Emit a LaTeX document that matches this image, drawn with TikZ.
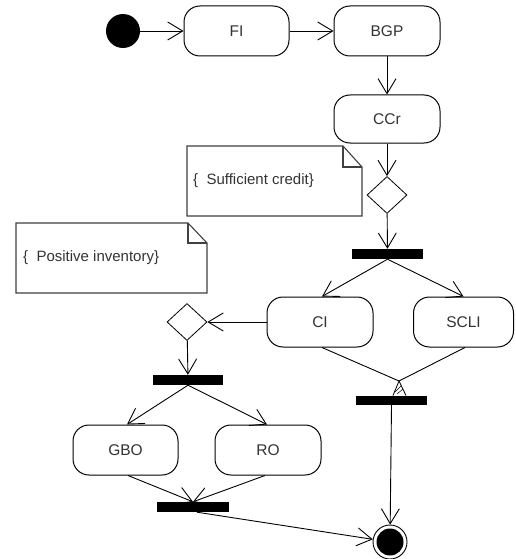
\documentclass[tikz,border=0pt]{standalone}
\usepackage{fontspec}
\setmainfont{Liberation Sans}
\usetikzlibrary{arrows.meta,shapes.geometric}
\tikzset{
  act/.style={draw, rounded corners=16pt, minimum width=105pt, minimum height=50pt, line width=1pt, font=\fontsize{15.5}{18}\selectfont, text=black!80},
  barnode/.style={fill=black, draw=none, minimum width=71pt, minimum height=10pt, inner sep=0pt},
  dec/.style={draw, diamond, inner sep=0pt, minimum width=40pt, minimum height=37pt, aspect=1.1, line width=0.8pt},
  conn/.style={line width=0.9pt, -{Straight Barb[length=15pt,width=18pt,line width=0.9pt]}},
  plain/.style={line width=0.9pt},
  notebox/.style={line width=1.1pt, draw=black!75},
  notetext/.style={anchor=west, font=\fontsize{15}{18}\selectfont, text=black!80, inner sep=0pt},
}
\begin{document}
\begin{tikzpicture}[x=1pt,y=-1pt]
\path[use as bounding box, fill=white] (0,0) rectangle (515,559);

% nodes
\node[circle, fill=black, minimum size=34pt, inner sep=0pt] (start) at (123,31) {};
\node[act] (FI) at (236.5,31) {FI};
\node[act, minimum width=106pt] (BGP) at (387,31) {BGP};
\node[act, minimum width=106pt, minimum height=48pt] (CCr) at (387,119) {CCr};
\node[dec] (d1) at (387,195) {};
\node[barnode] (bar1) at (387.5,254) {};
\node[dec] (d2) at (187,322) {};
\node[act, minimum width=106pt] (CI) at (320,322) {CI};
\node[act, minimum width=100pt] (SCLI) at (463.5,322) {SCLI};
\node[barnode, minimum height=9pt] (bar2) at (391.5,400.5) {};
\node[barnode, minimum width=70pt] (bar3) at (188,380) {};
\node[act] (GBO) at (125.5,450) {GBO};
\node[act, minimum width=106pt] (RO) at (268,450) {RO};
\node[barnode, minimum width=72pt] (bar4) at (193,507) {};
\node[circle, draw, line width=0.9pt, minimum size=34pt, inner sep=0pt] (end) at (390,542) {};
\fill (end.center) circle (13.5pt);

% notes
\draw[notebox] (187,146) -- (343,146) -- (362,167) -- (362,216) -- (187,216) -- cycle;
\draw[notebox] (343,146) -- (343,167) -- (362,167);
\node[notetext] (n1) at (193,181) {\{\ \ Sufficient credit\}};
\draw[notebox] (16,223) -- (188,223) -- (207,243) -- (207,293) -- (16,293) -- cycle;
\draw[notebox] (188,223) -- (188,243) -- (207,243);
\node[notetext] (n2) at (23,258) {\{\ \ Positive inventory\}};

% connectors
\draw[conn] (start) -- (FI);
\draw[conn] (FI) -- (BGP);
\draw[conn] (BGP) -- (CCr);
\draw[conn] (CCr) -- (d1);
\draw[conn] (d1) -- (bar1);
\draw[conn] (bar1.south) -- ([xshift=2pt]CI.north);
\draw[conn] (bar1.south) -- (SCLI.north);
\draw[conn] (CI) -- (d2);
\draw[conn] (d2) -- (bar3);
\draw[conn] (bar3.south) -- ([xshift=1.5pt]GBO.north);
\draw[conn] (bar3.south) -- ([xshift=-1pt]RO.north);
\draw[conn] ([xshift=2.5pt]GBO.south) -- (bar4.north);
\draw[conn] ([xshift=-3pt]RO.south) -- (bar4.north);
\draw[conn] ([xshift=4pt]bar4.south) -- (end);
\draw[conn] (bar2.south) -- (end);
\coordinate (j) at (399,381);
\draw[plain] ([xshift=2pt]CI.south) -- (j);
\draw[plain] ([xshift=1.5pt]SCLI.south) -- (j);
\draw[line width=0.8pt] (393,395.5) -- (j) -- (406,395.5);
\draw[line width=0.5pt] (395,392) -- (401,386) (397,394) -- (403,389);
\end{tikzpicture}
\end{document}
